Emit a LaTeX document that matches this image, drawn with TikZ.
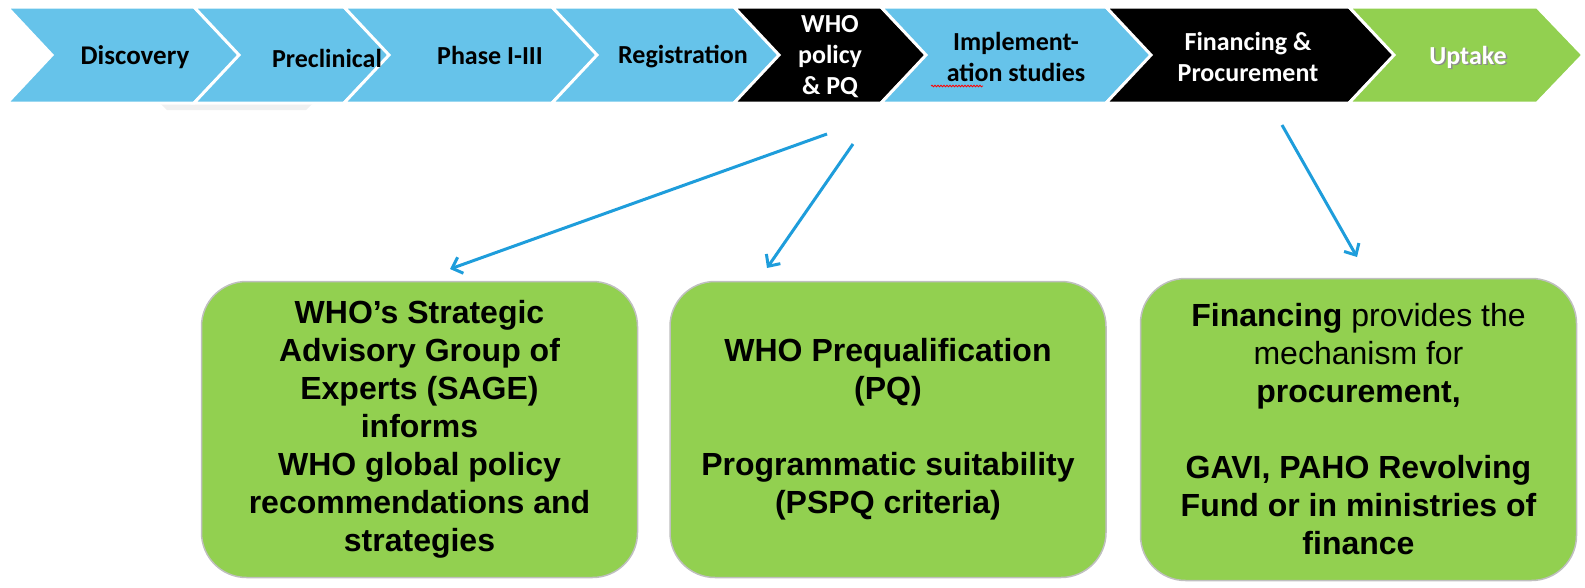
\documentclass[tikz,border=0pt]{standalone}
\usepackage{fontspec}
\setmainfont{Liberation Sans}
\newfontfamily\stageFont{Carlito}
\usepackage{xcolor}
\definecolor{stageBlue}{HTML}{66C3EA}
\definecolor{stageGreen}{HTML}{92D050}
\definecolor{boxGreen}{HTML}{92D050}
\definecolor{boxBorder}{HTML}{BFBFBF}
\definecolor{arrowBlue}{HTML}{1E9DDB}
\usepackage{tikz}
\usetikzlibrary{positioning,calc,arrows.meta,decorations.pathmorphing}
\tikzset{
  stage/.style={
    draw=white,
    line width=3pt,
    line join=miter
 },
  stageText/.style={
    align=center,
    inner sep=0pt,
    font=\stageFont\bfseries\fontsize{26}{31}\selectfont
 },
  infoBox/.style={
    rectangle,
    rounded corners=45pt,
    draw=boxBorder,
    line width=1.5pt,
    fill=boxGreen,
    minimum width=436pt,
    minimum height=296pt,
    align=center,
    font=\bfseries\fontsize{32}{38}\selectfont
 },
  arrowLine/.style={
    -{Straight Barb[length=9pt,width=17pt]},
    line width=3pt,
    color=arrowBlue
 }
}
% one stage of the pipeline: left edge, tip, colour
\newcommand{\chevron}[3]{%
  \filldraw[stage, fill=#3] (#1,7) -- ({#2-46},7) -- (#2,55) -- ({#2-46},103) -- (#1,103) -- ({#1+45},55) -- cycle;}

\begin{document}
\begin{tikzpicture}[x=1pt,y=-1pt]
            \useasboundingbox (0,0) rectangle (1585,587);

            % faint reflection under the first stages
            \fill[black!6] (160,103) -- (313,103) -- (306,110) -- (167,110) -- cycle;

            \chevron{7}{240}{stageBlue}
            \chevron{194}{390}{stageBlue}
            \chevron{344}{598}{stageBlue}
            \chevron{552}{780}{stageBlue}
            \chevron{734}{927}{black}
            \chevron{881}{1152}{stageBlue}
            \chevron{1106}{1395}{black}
            \chevron{1349}{1583}{stageGreen}

            \node[stageText, font=\stageFont\bfseries\fontsize{27}{31}\selectfont] (discT) at (135,57) {Discovery};
            \node[stageText] (preclT) at (327,58) {Preclinical};
            \node[stageText] (phaseT) at (490,55) {Phase I-III};
            \node[stageText] (regisT) at (683,57) {Registration};
            \node[stageText, text=white] (whoT) at (830,57) {WHO\\policy\\\& PQ};
            \node[stageText] (implT) at (1016,57) {Implement-\\ation studies};
            \node[stageText, text=white] (finT) at (1248,57) {Financing \&\\Procurement};
            \node[stageText, text=black!45] (uptakeS) at (1469.5,58.5) {Uptake};
            \node[stageText, text=white] (uptakeT) at (1468,57) {Uptake};

            % spell-check mark
            \draw[red, line width=0.8pt, decorate, decoration={snake, amplitude=0.8pt, segment length=3pt}] (931,86) -- (983,86);

            \node[infoBox] (sage) at (419.5,429.5) {WHO’s Strategic\\Advisory Group of\\Experts (SAGE)\\informs\\WHO global policy\\recommendations and\\strategies};
            \node[infoBox, right=31pt of sage] (pq) {WHO Prequalification\\(PQ)\\[38pt]Programmatic suitability\\(PSPQ criteria)};
            \node[infoBox, right=33pt of pq, minimum height=302pt] (money) {Financing {\mdseries provides the}\\{\mdseries mechanism for}\\procurement,\\[38pt]GAVI, PAHO Revolving\\Fund or in ministries of\\finance};

            \coordinate (whoOutA) at (827,134);
            \coordinate (whoOutB) at (853,144);
            \coordinate (finOut) at (1282,125);
            \coordinate (sageIn) at (450,269);
            \coordinate (pqIn) at (767,268);
            \coordinate (moneyIn) at (1357,257);

            \draw[arrowLine] (whoOutA) -- (sageIn);
            \draw[arrowLine] (whoOutB) -- (pqIn);
            \draw[arrowLine] (finOut) -- (moneyIn);
        \end{tikzpicture}
\end{document}
